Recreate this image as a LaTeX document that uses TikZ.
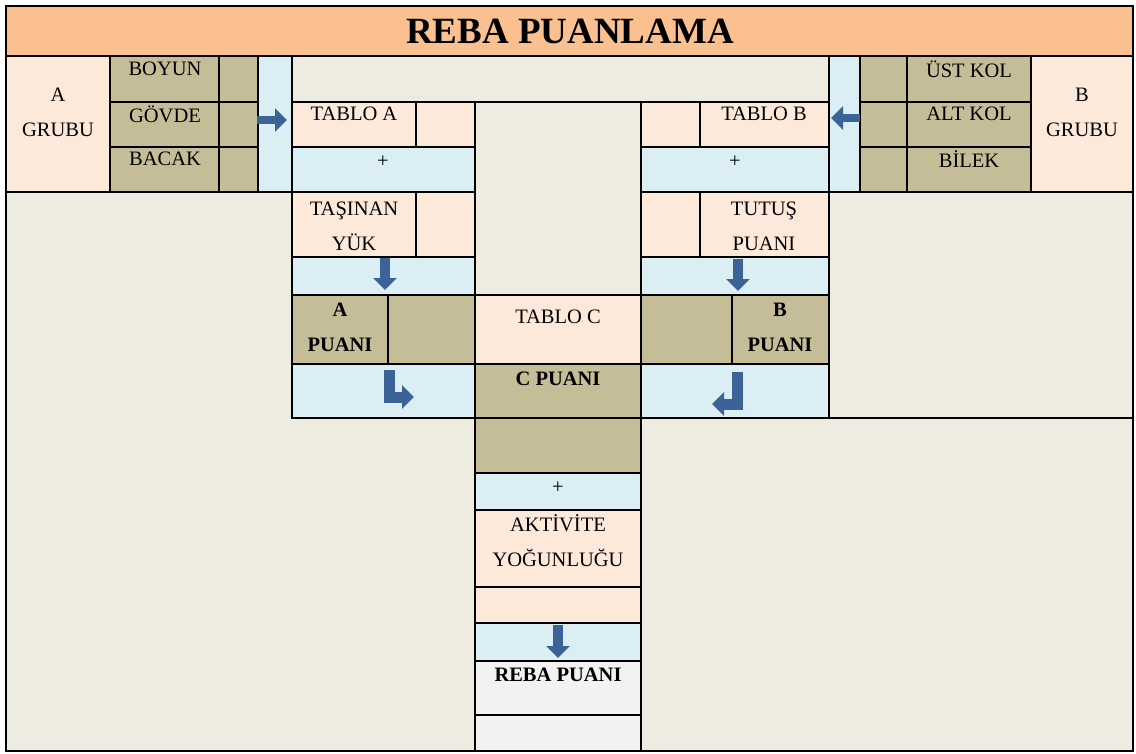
\documentclass[tikz,border=0pt]{standalone}
\usepackage{fontspec}
\setmainfont{Liberation Serif}
\usetikzlibrary{arrows.meta}
\definecolor{titlecol}{HTML}{FAC090}
\definecolor{peachcol}{HTML}{FDE9D9}
\definecolor{tancol}{HTML}{C4BD97}
\definecolor{skycol}{HTML}{DBEEF3}
\definecolor{beigecol}{HTML}{EEECE1}
\definecolor{greycol}{HTML}{F2F2F2}
\definecolor{arrowcol}{HTML}{3B6397}
\tikzset{box/.style={draw=black, line width=2.4pt},
 peachcell/.style={box, fill=peachcol},
 tancell/.style={box, fill=tancol},
 skycell/.style={box, fill=skycol},
 beigecell/.style={box, fill=beigecol},
 greycell/.style={box, fill=greycol},
 lbl/.style={font=\fontsize{20.5}{35}\selectfont, align=center, inner sep=0pt},
 blbl/.style={lbl, font=\fontsize{20.5}{35}\selectfont\bfseries},
 blockarrow/.style={draw=arrowcol, line width=10pt, line join=miter,
   -{Triangle[width=23pt,length=12pt]}},
 }

\begin{document}
\begin{tikzpicture}[x=1pt,y=-1pt]
    \useasboundingbox (0,0) rectangle (1136,753);
    \fill[beigecol] (6,6) rectangle (1133,751);
    % title
    \draw[box, fill=titlecol] (6,6) rectangle (1133,56);
    \node[font=\fontsize{37}{40}\selectfont\bfseries] (title) at (570,31) {REBA PUANLAMA};
    % A group
    \draw[peachcell] (6,56) rectangle (110,192);
    \draw[tancell] (110,56) rectangle (258,192);
    \draw[box] (110,102) -- (258,102);
    \draw[box] (110,147) -- (258,147);
    \draw[box] (219,56) -- (219,192);
    \draw[skycell] (258,56) rectangle (292,192);
    \node[lbl] (grpA) at (58,112) {A\\GRUBU};
    \node[lbl] (boyun) at (165,69) {BOYUN};
    \node[lbl] (govde) at (165,114) {GÖVDE};
    \node[lbl] (bacak) at (165,159) {BACAK};
    % B group
    \draw[skycell] (829,56) rectangle (860,192);
    \draw[tancell] (860,56) rectangle (1031,192);
    \draw[box] (860,102) -- (1031,102);
    \draw[box] (860,147) -- (1031,147);
    \draw[box] (907,56) -- (907,192);
    \draw[peachcell] (1031,56) rectangle (1133,192);
    \node[lbl] (ustkol) at (969,69) {ÜST KOL};
    \node[lbl] (altkol) at (969,114) {ALT KOL};
    \node[lbl] (bilek) at (969,159) {BİLEK};
    \node[lbl] (grpB) at (1082,112) {B\\GRUBU};
    % left column
    \draw[beigecell] (292,56) rectangle (829,102);
    \draw[peachcell] (292,102) rectangle (475,147);
    \draw[box] (416,102) -- (416,147);
    \draw[skycell] (292,147) rectangle (475,192);
    \draw[peachcell] (292,192) rectangle (475,257);
    \draw[box] (416,192) -- (416,257);
    \draw[skycell] (292,257) rectangle (475,295);
    \draw[tancell] (292,295) rectangle (475,364);
    \draw[box] (388,295) -- (388,364);
    \draw[skycell] (292,364) rectangle (475,418);
    \node[lbl] (tabloA) at (354,114) {TABLO A};
    \node[lbl] (plusA) at (383,162) {+};
    \node[lbl] (tasinan) at (354,226) {TAŞINAN\\YÜK};
    \node[blbl] (puanA) at (340,327) {A\\PUANI};
    % right column
    \draw[peachcell] (641,102) rectangle (829,147);
    \draw[box] (700,102) -- (700,147);
    \draw[skycell] (641,147) rectangle (829,192);
    \draw[peachcell] (641,192) rectangle (829,257);
    \draw[box] (700,192) -- (700,257);
    \draw[skycell] (641,257) rectangle (829,295);
    \draw[tancell] (641,295) rectangle (829,364);
    \draw[box] (732,295) -- (732,364);
    \draw[skycell] (641,364) rectangle (829,418);
    \draw[box] (829,418) -- (1133,418);
    \node[lbl] (tabloB) at (764,114) {TABLO B};
    \node[lbl] (plusB) at (735,162) {+};
    \node[lbl] (tutus) at (764,226) {TUTUŞ\\PUANI};
    \node[blbl] (puanB) at (780,327) {B\\PUANI};
    % center column
    \draw[beigecell] (475,102) rectangle (641,295);
    \draw[peachcell] (475,295) rectangle (641,364);
    \draw[tancell] (475,364) rectangle (641,473);
    \draw[box] (475,418) -- (641,418);
    \draw[skycell] (475,473) rectangle (641,510);
    \draw[peachcell] (475,510) rectangle (641,587);
    \draw[peachcell] (475,587) rectangle (641,623);
    \draw[skycell] (475,623) rectangle (641,661);
    \draw[greycell] (475,661) rectangle (641,715);
    \draw[greycell] (475,715) rectangle (641,751);
    \node[lbl] (tabloC) at (558,317) {TABLO C};
    \node[blbl] (puanC) at (558,379) {C PUANI};
    \node[lbl] (plusC) at (558,488) {+};
    \node[lbl] (aktivite) at (558,541) {AKTİVİTE\\YOĞUNLUĞU};
    \node[blbl] (rebapuan) at (558,675) {REBA PUANI};
    % arrows
    \coordinate (ra1) at (257,120);
    \coordinate (ra2) at (287,120);
    \coordinate (la1) at (860,118);
    \coordinate (la2) at (831,118);
    \coordinate (da1) at (385,258);
    \coordinate (da2) at (385,290);
    \coordinate (db1) at (738,259);
    \coordinate (db2) at (738,291);
    \coordinate (ba1) at (389,370);
    \coordinate (ba2) at (414,397);
    \coordinate (bb1) at (737,372);
    \coordinate (bb2) at (712,404);
    \coordinate (dc1) at (558,625);
    \coordinate (dc2) at (558,658);
    \draw[blockarrow, line width=8pt] (ra1) -- (ra2);
    \draw[blockarrow, line width=8pt] (la1) -- (la2);
    \draw[blockarrow] (da1) -- (da2);
    \draw[blockarrow] (db1) -- (db2);
    \draw[blockarrow, line width=11pt] (ba1) |- (ba2);
    \draw[blockarrow, line width=11pt] (bb1) |- (bb2);
    \draw[blockarrow] (dc1) -- (dc2);
    % outer frame
    \draw[box] (6,6) rectangle (1133,751);
\end{tikzpicture}
\end{document}
